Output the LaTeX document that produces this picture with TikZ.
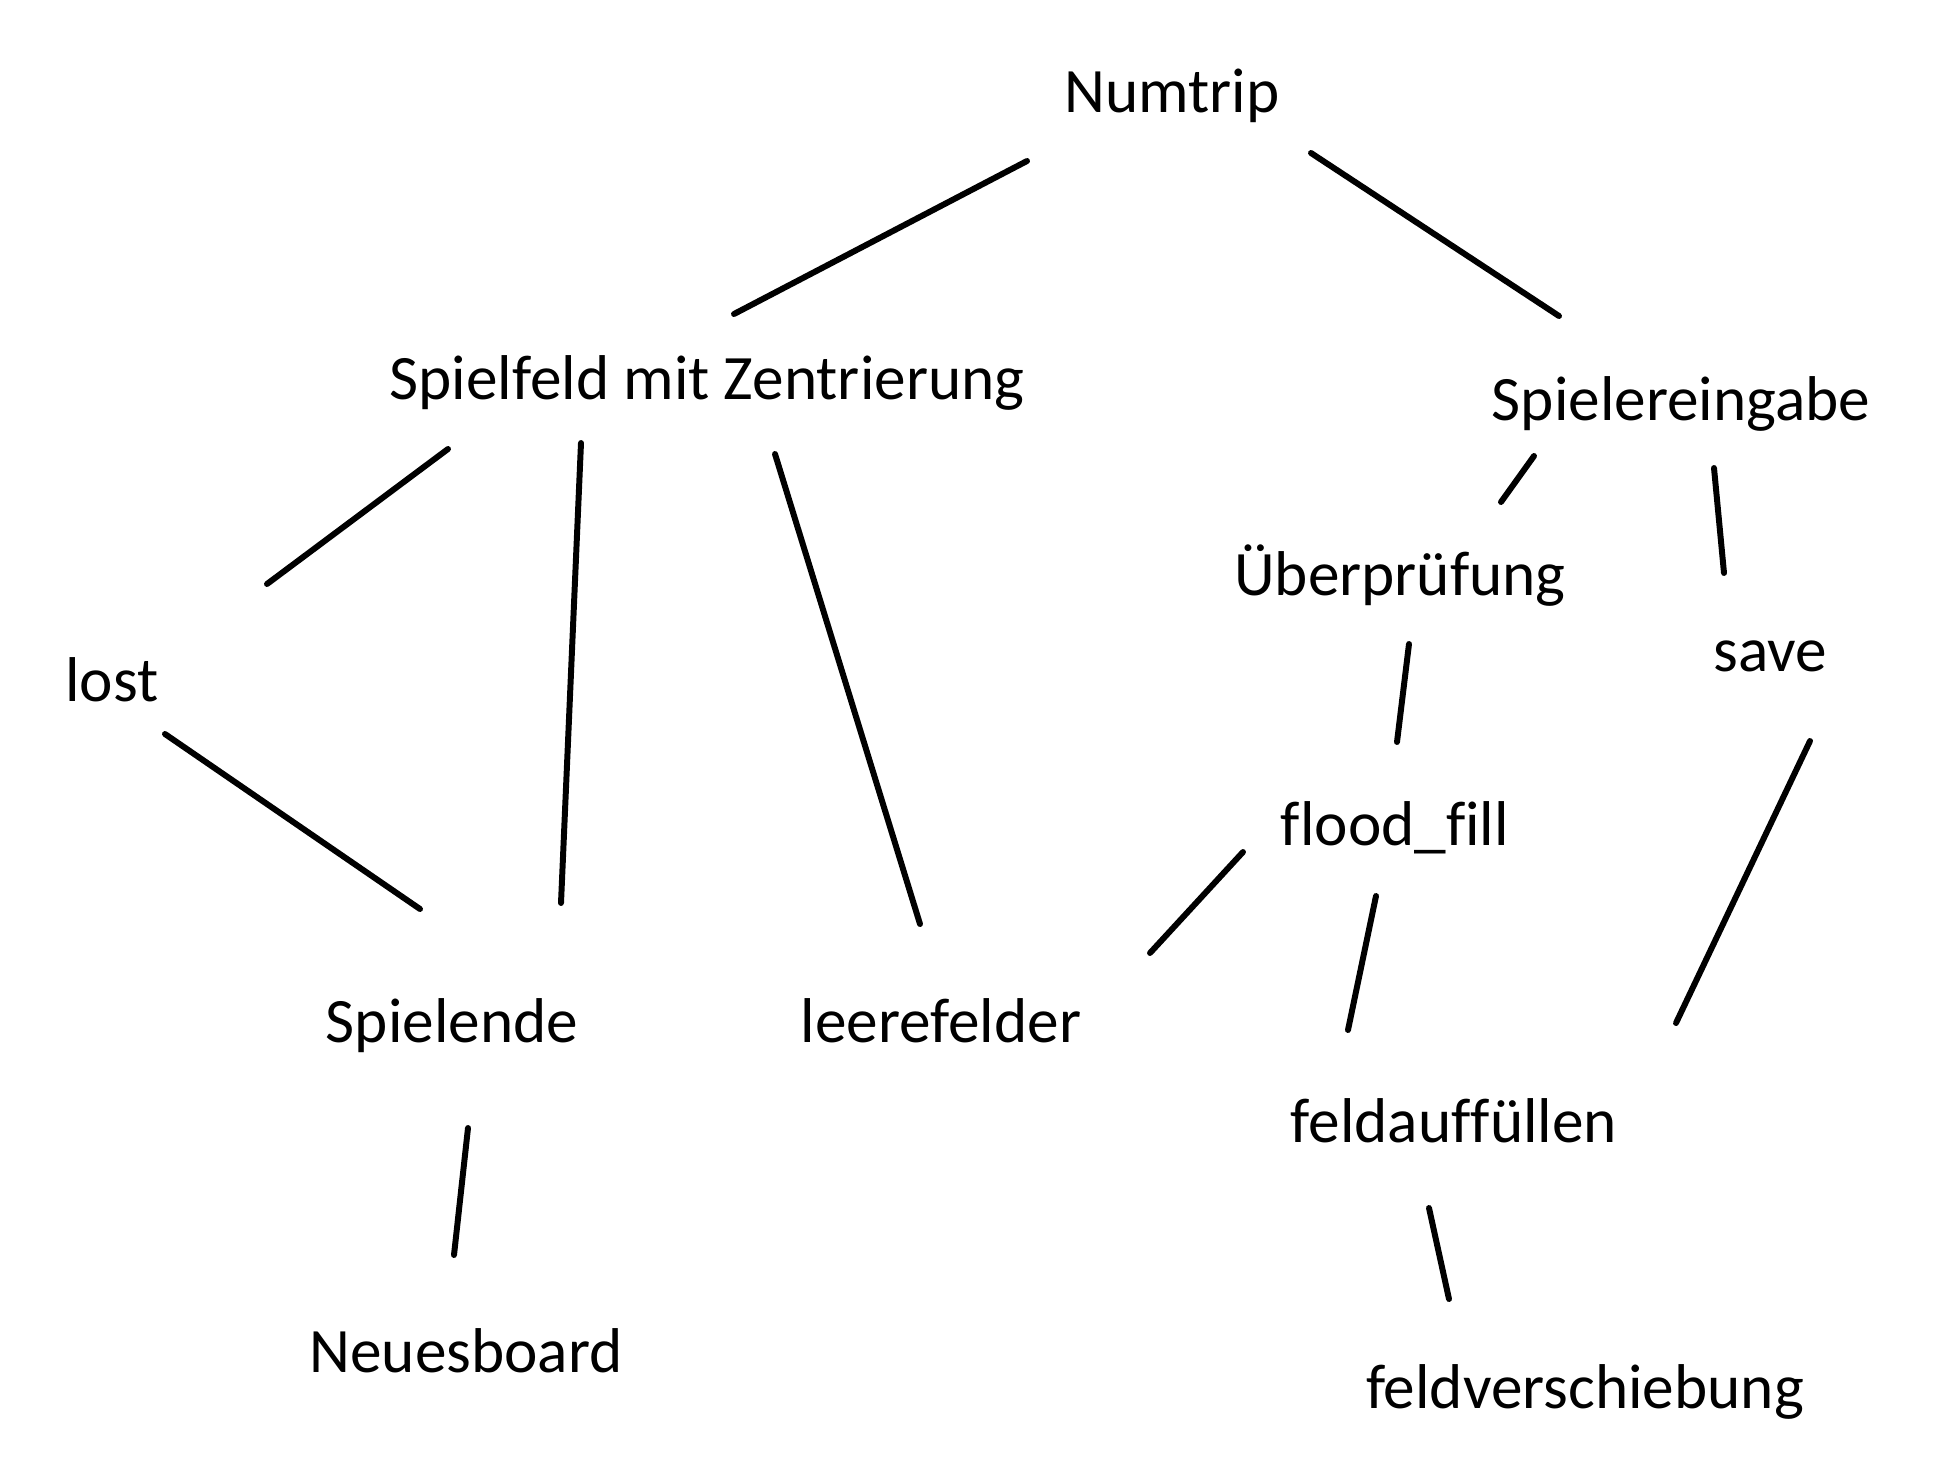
\documentclass[tikz,border=0pt]{standalone}
\usepackage{fontspec}
\setmainfont[Ligatures={NoCommon,NoContextual}]{Carlito}
\newcommand{\nolig}{\kern0pt}
\begin{document}
\begin{tikzpicture}[every node/.style={anchor=base,inner sep=0pt,font=\fontsize{18}{22}\selectfont},
    every path/.style={line width=1.7pt,line cap=round}]
        \useasboundingbox (0,0) rectangle (19.45,-14.66);
        \node (num) at (11.72,-1.12) {Numtrip};
        \node (spf) at (7.07,-3.99) {Spielfeld mit Zentrierung};
        \node (spe) at (16.81,-4.20) {Spielereingabe};
        \node (lost) at (1.12,-7.01) {lost};
        \node (ueb) at (14.00,-5.95) {Überprüfung};
        \node (save) at (17.70,-6.71) {save};
        \node (ff) at (13.95,-8.45) {f\nolig lood\_f\nolig i\nolig ll};
        \node (end) at (4.52,-10.42) {Spielende};
        \node (leer) at (9.41,-10.42) {leerefelder};
        \node (auf) at (14.54,-11.42) {feldauf\nolig f\nolig üllen};
        \node (neu) at (4.66,-13.72) {Neuesboard};
        \node (ver) at (15.85,-14.08) {feldverschiebung};
        \coordinate (a1) at (10.27,-1.61);
        \coordinate (a2) at (7.34,-3.14);
        \coordinate (b1) at (13.11,-1.53);
        \coordinate (b2) at (15.59,-3.16);
        \coordinate (c1) at (4.48,-4.49);
        \coordinate (c2) at (2.67,-5.84);
        \coordinate (d1) at (5.81,-4.43);
        \coordinate (d2) at (5.61,-9.03);
        \coordinate (e1) at (7.75,-4.54);
        \coordinate (e2) at (9.20,-9.24);
        \coordinate (f1) at (15.34,-4.56);
        \coordinate (f2) at (15.01,-5.02);
        \coordinate (g1) at (17.14,-4.68);
        \coordinate (g2) at (17.24,-5.73);
        \coordinate (h1) at (14.09,-6.44);
        \coordinate (h2) at (13.97,-7.42);
        \coordinate (i1) at (1.65,-7.34);
        \coordinate (i2) at (4.20,-9.09);
        \coordinate (j1) at (12.43,-8.52);
        \coordinate (j2) at (11.50,-9.53);
        \coordinate (k1) at (13.76,-8.96);
        \coordinate (k2) at (13.48,-10.30);
        \coordinate (l1) at (18.10,-7.41);
        \coordinate (l2) at (16.76,-10.23);
        \coordinate (m1) at (4.68,-11.28);
        \coordinate (m2) at (4.54,-12.55);
        \coordinate (n1) at (14.29,-12.08);
        \coordinate (n2) at (14.49,-12.99);
        \draw (a1) -- (a2);
        \draw (b1) -- (b2);
        \draw (c1) -- (c2);
        \draw (d1) -- (d2);
        \draw (e1) -- (e2);
        \draw (f1) -- (f2);
        \draw (g1) -- (g2);
        \draw (h1) -- (h2);
        \draw (i1) -- (i2);
        \draw (j1) -- (j2);
        \draw (k1) -- (k2);
        \draw (l1) -- (l2);
        \draw (m1) -- (m2);
        \draw (n1) -- (n2);
      \end{tikzpicture}
\end{document}
